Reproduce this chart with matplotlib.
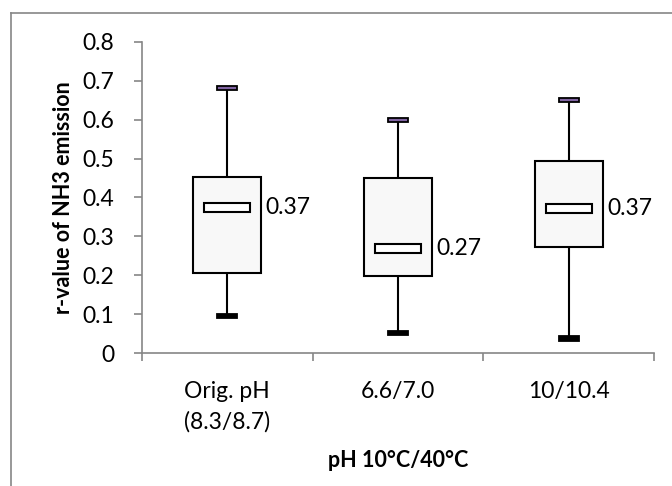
import matplotlib
matplotlib.use("Agg")
import matplotlib.pyplot as plt
from matplotlib.lines import Line2D

plt.rcParams['font.family'] = ['Lato', 'DejaVu Sans']

categories = ["Orig. pH\n(8.3/8.7)", "6.6/7.0", "10/10.4"]
q_min = [0.095, 0.051, 0.037]
q1 = [0.206, 0.198, 0.273]
median = [0.374, 0.27, 0.372]
q3 = [0.452, 0.450, 0.494]
q_max = [0.681, 0.600, 0.651]
median_labels = ["0.37", "0.27", "0.37"]
yticks = [0, 0.1, 0.2, 0.3, 0.4, 0.5, 0.6, 0.7, 0.8]
ytick_labels = ["0", "0.1", "0.2", "0.3", "0.4", "0.5", "0.6", "0.7", "0.8"]

W, H = 672, 486
fig = plt.figure(figsize=(W / 100, H / 100), dpi=100)
ax = fig.add_axes([142 / W, (H - 353) / H, (654 - 142) / W, (353 - 42) / H])

x = list(range(len(categories)))
grey = "#868686"
fs = 16.5

# whiskers
for i in x:
    ax.plot([i, i], [q_min[i], q_max[i]], color="black", lw=1.5, zorder=1)

# boxes
ax.bar(x, [b - a for a, b in zip(q1, q3)], bottom=q1, width=0.40,
       color="#F8F8F8", edgecolor="black", linewidth=1.5, zorder=2)

# median markers
mh = 0.023
ax.bar(x, [mh] * 3, bottom=[m - mh / 2 for m in median], width=0.27,
       color="white", edgecolor="black", linewidth=1.5, zorder=3)

# caps
ch = 0.011
ax.bar(x, [ch] * 3, bottom=[v - ch / 2 for v in q_max], width=0.117,
       color="#8064A2", edgecolor="black", linewidth=1.3, zorder=3)
ax.bar(x, [ch] * 3, bottom=[v - ch / 2 for v in q_min], width=0.117,
       color="black", edgecolor="black", linewidth=1.3, zorder=3)

# median labels
for i in x:
    ax.text(i + 0.225, median[i], median_labels[i], ha="left", va="center",
            fontsize=fs, color="black")

ax.set_xlim(-0.5, 2.5)
ax.set_ylim(0, 0.8)
ax.set_yticks(yticks)
ax.set_yticklabels(ytick_labels, fontsize=fs)

ax.set_xticks([-0.5, 0.5, 1.5, 2.5])
ax.set_xticklabels([])
ax.set_xticks(x, minor=True)
ax.set_xticklabels(categories, minor=True, fontsize=fs, linespacing=1.55)
ax.tick_params(axis="x", which="minor", length=0, pad=20)
ax.tick_params(axis="x", which="major", length=6, direction="out", color=grey, width=1.2)
ax.tick_params(axis="y", length=6, direction="out", color=grey, width=1.2, pad=14)

for s in ["top", "right"]:
    ax.spines[s].set_visible(False)
for s in ["left", "bottom"]:
    ax.spines[s].set_color(grey)
    ax.spines[s].set_linewidth(1.2)

ax.set_ylabel("r-value of NH3 emission", fontsize=15.5, fontweight="bold", labelpad=6)
ax.set_xlabel("pH 10°C/40°C", fontsize=15.5, fontweight="bold", labelpad=12)

# outer chart frame
fig.add_artist(Line2D([10.5 / W, 10.5 / W], [0, 1 - 13 / H], color=grey, lw=1.2))
fig.add_artist(Line2D([10.5 / W, 1], [1 - 13 / H, 1 - 13 / H], color=grey, lw=1.2))

fig.savefig("out.png", dpi=100)
